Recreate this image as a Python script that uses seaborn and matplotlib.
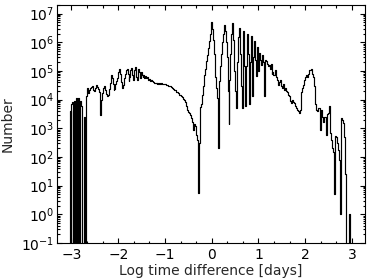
import numpy as np
import pandas as pd
import matplotlib
matplotlib.use("Agg")
import matplotlib.pyplot as plt
import seaborn as sns
from matplotlib.ticker import LogLocator, MultipleLocator, NullFormatter

# ---- data: histogram of log10(time difference / days), bin width 0.02 ----
first_edge = -3.10
bin_width = 0.02
counts = [
    # -3.10 .. -2.92
    0, 0, 0, 4.0e3, 0, 7.0e3, 8.0e3, 0, 9.0e3, 0,
    # -2.90 .. -2.72
    1.1e4, 0, 1.1e4, 0, 9.0e3, 6.0e3, 0, 0, 2.5e3, 0,
    # -2.70 .. -2.52
    1.1e3, 1.3e4, 2.5e4, 1.7e4, 2.2e4, 2.5e4, 2.8e4, 2.9e4, 2.2e4, 2.0e4,
    # -2.50 .. -2.32
    2.6e4, 3.2e4, 2.8e4, 2.4e4, 1.8e4, 1.3e4, 3.0e3, 1.0e4, 1.7e4, 2.5e4,
    # -2.30 .. -2.12
    2.9e4, 2.2e4, 1.6e4, 1.3e4, 1.4e4, 2.4e4, 3.8e4, 7.0e4, 5.5e4, 3.5e4,
    # -2.10 .. -1.92
    2.2e4, 2.4e4, 3.6e4, 4.5e4, 5.5e4, 9.0e4, 1.15e5, 8.0e4, 4.0e4, 2.5e4,
    # -1.90 .. -1.72
    3.2e4, 5.5e4, 8.0e4, 1.1e5, 1.2e5, 8.0e4, 4.6e4, 6.0e4, 1.05e5, 1.3e5,
    # -1.70 .. -1.52
    7.0e4, 5.0e4, 1.1e5, 1.4e5, 6.0e4, 5.0e4, 1.2e5, 9.0e4, 5.5e4, 9.5e4,
    # -1.50 .. -1.32
    7.0e4, 6.2e4, 7.5e4, 5.8e4, 6.5e4, 5.5e4, 6.0e4, 5.0e4, 5.4e4, 4.6e4,
    # -1.30 .. -1.12
    4.9e4, 4.4e4, 4.1e4, 3.9e4, 3.7e4, 3.9e4, 3.6e4, 3.7e4, 3.5e4, 3.8e4,
    # -1.10 .. -0.92
    3.6e4, 3.8e4, 3.5e4, 3.6e4, 3.4e4, 3.6e4, 3.3e4, 3.2e4, 3.1e4, 3.0e4,
    # -0.90 .. -0.72
    2.9e4, 2.7e4, 2.8e4, 2.5e4, 2.4e4, 2.2e4, 2.1e4, 1.9e4, 1.8e4, 1.65e4,
    # -0.70 .. -0.52
    1.5e4, 1.4e4, 1.3e4, 1.2e4, 1.05e4, 9.5e3, 8.5e3, 7.5e3, 6.0e3, 4.5e3,
    # -0.50 .. -0.32
    3.6e3, 3.3e3, 2.8e3, 2.3e3, 1.6e3, 8.5e2, 1.4e3, 1.2e3, 6.0e2, 3.8e2,
    # -0.30 .. -0.12
    5.5, 3.2e2, 4.0e3, 5.5e3, 7.0e3, 1.5e4, 3.0e4, 7.0e4, 1.2e5, 2.2e5,
    # -0.10 .. 0.08
    3.5e5, 6.5e5, 1.1e6, 2.0e6, 5.2e6, 3.0e6, 1.2e6, 4.0e5, 1.5e5, 6.0e4,
    # 0.10 .. 0.28
    2.5e4, 1.1e4, 2.0e2, 4.3e4, 1.5e5, 4.0e5, 1.0e6, 2.0e6, 4.1e6, 2.5e6,
    # 0.30 .. 0.48
    1.0e6, 3.0e5, 2.0e4, 1.4e3, 5.0e4, 4.0e5, 2.0e6, 4.9e6, 1.2e6, 1.0e5,
    # 0.50 .. 0.68
    2.0e4, 5.0e3, 2.0e5, 1.5e6, 3.2e6, 4.0e5, 3.0e4, 5.3e3, 2.5e5, 2.4e6,
    # 0.70 .. 0.88
    1.5e5, 5.9e3, 1.5e5, 1.9e6, 4.0e5, 7.0e3, 2.0e5, 1.6e6, 1.3e4, 3.0e5,
    # 0.90 .. 1.08
    1.1e6, 2.5e5, 6.5e4, 6.6e5, 2.5e5, 1.0e5, 4.4e5, 2.5e5, 1.6e5, 3.5e5,
    # 1.10 .. 1.28
    2.0e5, 1.3e4, 2.5e5, 2.3e5, 1.8e5, 1.5e5, 1.6e5, 1.2e5, 1.7e5, 8.0e4,
    # 1.30 .. 1.48
    9.0e4, 7.0e4, 7.5e4, 1.05e5, 6.0e4, 4.8e4, 3.2e4, 4.0e4, 4.8e4, 3.0e4,
    # 1.50 .. 1.68
    2.5e4, 3.5e4, 2.2e4, 2.6e4, 2.1e4, 2.0e4, 1.9e4, 1.5e4, 1.3e4, 9.0e3,
    # 1.70 .. 1.88
    7.6e3, 1.0e4, 8.0e3, 7.6e3, 6.0e3, 5.0e3, 4.5e3, 4.0e3, 3.5e3, 4.5e3,
    # 1.90 .. 2.08
    7.6e3, 1.9e4, 2.5e4, 3.2e4, 4.8e4, 6.0e4, 7.0e4, 6.3e4, 8.0e4, 1.05e5,
    # 2.10 .. 2.28
    1.1e5, 1.2e5, 8.0e4, 6.2e4, 3.0e4, 1.7e4, 7.0e3, 4.5e3, 4.0e3, 5.0e3,
    # 2.30 .. 2.48
    5.0e3, 9.0e2, 4.5e3, 2.5e3, 1.6e3, 2.5e3, 2.5e3, 6.0e2, 3.2e3, 3.5e3,
    # 2.50 .. 2.68
    4.5e3, 5.9e3, 7.0e2, 4.0e2, 2.0e2, 1.5e2, 5.0, 5.6e2, 5.0e2, 3.0e2,
    # 2.70 .. 2.88
    1.7e2, 8.0e1, 1.0, 2.3e3, 2.0e3, 1.5e3, 1.0e3, 4.9e2, 2.5e1, 0,
    # 2.90 .. 2.98
    0, 0, 1.0, 0, 0,
]
x_ticks = [-3, -2, -1, 0, 1, 2, 3]
x_label = "Log time difference [days]"
y_label = "Number"

edges = np.round(first_edge + bin_width * np.arange(len(counts) + 1), 4)
df = pd.DataFrame({
    "logdt": 0.5 * (edges[:-1] + edges[1:]),
    "count": np.asarray(counts, dtype=float),
})

sns.set_style("ticks")
plt.rcParams["font.family"] = ["DejaVu Sans"]

fig = plt.figure(figsize=(3.74, 2.80), dpi=100)
ax = fig.add_axes([57 / 374, 1 - 243 / 280, (365 - 57) / 374, (243 - 5) / 280])

sns.histplot(data=df, x="logdt", weights="count", bins=edges.tolist(),
             element="step", fill=False, color="black", linewidth=0.85, ax=ax)

ax.set_yscale("log")
ax.set_xlim(-3.31, 3.28)
ax.set_ylim(0.1, 2e7)
ax.set_xticks(x_ticks)
ax.set_xticklabels([f"{t:d}".replace("-", "\u2212") for t in x_ticks])
ax.xaxis.set_minor_locator(MultipleLocator(1 / 3))
ax.yaxis.set_major_locator(LogLocator(base=10, numticks=20))
ax.yaxis.set_minor_locator(LogLocator(base=10, subs=np.arange(2, 10), numticks=20))
ax.yaxis.set_minor_formatter(NullFormatter())

ax.tick_params(which="both", direction="in", top=True, right=True,
               colors="black", width=0.8)
ax.tick_params(which="major", length=3.5, labelsize=10)
ax.tick_params(which="minor", length=1.8)
ax.tick_params(axis="y", which="major", pad=2)
for s in ax.spines.values():
    s.set_color("black")
    s.set_linewidth(0.8)

ax.set_xlabel(x_label, fontsize=10, labelpad=1.5)
ax.set_ylabel(y_label, fontsize=10, labelpad=4.5)

fig.savefig("out.png", dpi=100)
